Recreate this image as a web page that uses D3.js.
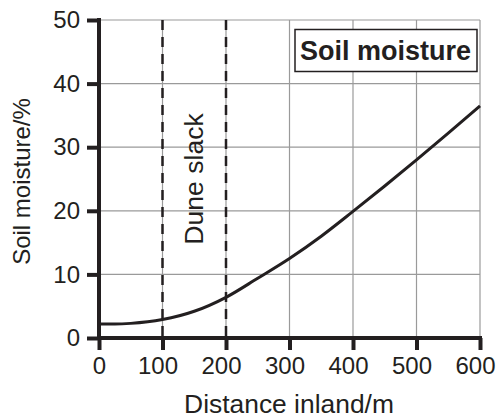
<!DOCTYPE html>
<html><head><meta charset="utf-8">
<script src="https://cdn.jsdelivr.net/npm/d3@7"></script>
<style>body{margin:0;background:#fff}svg{display:block}text{font-family:"Liberation Sans",Arial,sans-serif;fill:#231f20}</style>
</head><body><svg id="c" width="497" height="419"></svg>
<script>
const distance = [0, 25, 50, 100, 150, 200, 250, 300, 350, 400, 450, 500, 550, 600];
const moisture = [2.2, 2.2, 2.3, 2.9, 4.2, 6.4, 9.4, 12.5, 16.0, 19.9, 23.9, 28.0, 32.2, 36.5];
const xTicks = [0, 100, 200, 300, 400, 500, 600];
const yTicks = [0, 10, 20, 30, 40, 50];
const slackBounds = [100, 200];

const ink = "#231f20";
const svg = d3.select("#c");
const x = d3.scaleLinear().domain([0, 600]).range([99, 480]);
const y = d3.scaleLinear().domain([0, 50]).range([338, 20]);

// grid
svg.append("g").selectAll("line").data(xTicks.slice(1)).join("line")
  .attr("x1", d => x(d)).attr("x2", d => x(d)).attr("y1", y(0)).attr("y2", y(50))
  .attr("stroke", "#9a9a9a").attr("stroke-width", 1.2);
svg.append("g").selectAll("line").data(yTicks.slice(1)).join("line")
  .attr("x1", x(0)).attr("x2", x(600)).attr("y1", d => y(d)).attr("y2", d => y(d))
  .attr("stroke", "#9a9a9a").attr("stroke-width", 1.2);

// dashed slack lines
svg.append("g").selectAll("line").data(slackBounds).join("line")
  .attr("x1", d => x(d)).attr("x2", d => x(d)).attr("y1", y(50)).attr("y2", y(0))
  .attr("stroke", ink).attr("stroke-width", 2.5).attr("stroke-dasharray", "10,7");

// curve
svg.append("path").datum(distance.map((d, i) => [d, moisture[i]]))
  .attr("d", d3.line().x(d => x(d[0])).y(d => y(d[1])).curve(d3.curveMonotoneX))
  .attr("fill", "none").attr("stroke", ink).attr("stroke-width", 3);

// axes
const xAxis = svg.append("g").attr("transform", `translate(0,${y(0)})`)
  .call(d3.axisBottom(x).tickValues(xTicks).tickSize(12).tickPadding(7).tickFormat(d3.format("d")));
const yAxis = svg.append("g").attr("transform", `translate(${x(0)},0)`)
  .call(d3.axisLeft(y).tickValues(yTicks).tickSize(12).tickPadding(7).tickFormat(d3.format("d")));
[xAxis, yAxis].forEach(g => {
  g.attr("font-size", null).attr("font-family", null);
  g.select(".domain").attr("stroke", ink).attr("stroke-width", 4);
  g.selectAll(".tick line").attr("stroke", ink).attr("stroke-width", 4);
  g.selectAll(".tick text").attr("fill", ink)
    .style("font-size", "24px")
    .style("font-family", "'Liberation Sans', Arial, sans-serif");
});
xAxis.selectAll(".tick text").attr("dx", d => d === 0 ? 0 : -5);
xAxis.select(".domain").attr("d", `M${x(0)-2},0H${x(600)+2}`);
yAxis.select(".domain").attr("d", `M0,${y(50)-2}V${y(0)+2}`);

// labels
svg.append("text").attr("x", 289).attr("y", 413).attr("text-anchor", "middle")
  .style("font-size", "26.4px").text("Distance inland/m");
svg.append("text").attr("transform", "translate(30,181.5) rotate(-90)").attr("text-anchor", "middle")
  .style("font-size", "24px").text("Soil moisture/%");
svg.append("text").attr("transform", `translate(202.5,179) rotate(-90)`).attr("text-anchor", "middle")
  .style("font-size", "26.6px").text("Dune slack");

// title box
svg.append("rect").attr("x", 295).attr("y", 29.5).attr("width", 182).attr("height", 42)
  .attr("fill", "#fff").attr("stroke", ink).attr("stroke-width", 1.5);
svg.append("text").attr("x", 385.5).attr("y", 60).attr("text-anchor", "middle")
  .style("font-size", "27px").attr("font-weight", "bold").text("Soil moisture");
</script></body></html>
